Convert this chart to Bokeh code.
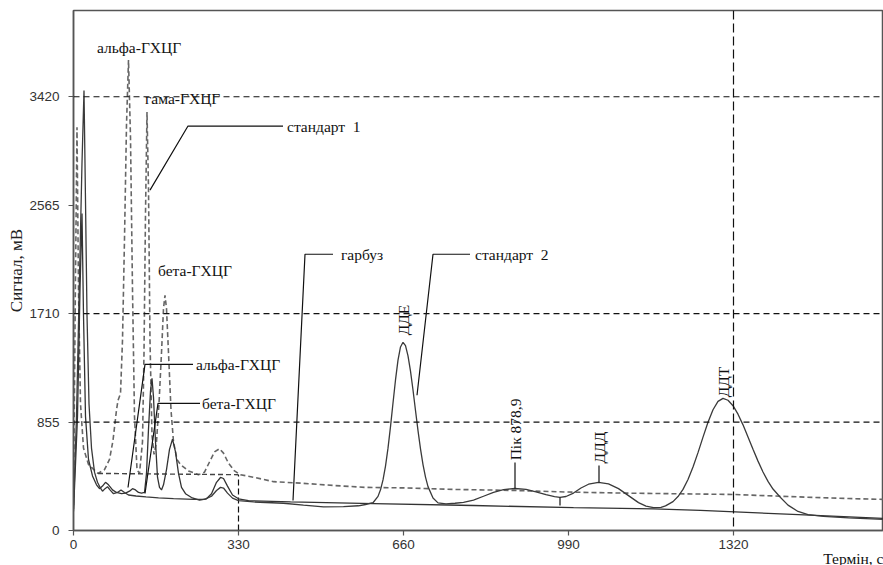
from math import pi
from bokeh.plotting import figure
from bokeh.models import Span, Label, FixedTicker, Title
from bokeh.embed import file_html
from bokeh.resources import INLINE

# ---------------- data ----------------
x_ticks = [0, 330, 660, 990, 1320]
y_ticks = [0, 855, 1710, 2565, 3420]
h_grid = [855, 1710, 3420]
v_grid = 1320

# стандарт 1 (dashed)
std1_t = [0, 3, 7, 10, 14, 20, 30, 49, 62, 72, 79, 86, 89, 94, 98, 102, 106, 110, 114, 118, 122, 127, 132,
          138, 141, 144, 147, 150, 153, 157, 161, 166, 171, 176, 180, 183, 186, 190, 195, 200, 207, 214, 230,
          250, 262, 272, 282, 292, 300, 310, 322, 334, 360, 400, 460, 520, 583, 660, 760, 880, 990, 1100,
          1200, 1320, 1450, 1550, 1620]
std1_v = [200, 1600, 3180, 1900, 1000, 650, 520, 450, 480, 560, 710, 950, 1026, 1080, 1500, 2300, 3200, 3710,
          3100, 1900, 900, 480, 450, 700, 1400, 2500, 3300, 2700, 1500, 750, 600, 700, 1000, 1400, 1750, 1855,
          1750, 1400, 950, 700, 560, 520, 470, 440, 460, 540, 620, 645, 610, 530, 470, 440, 420, 385, 372, 355,
          340, 336, 324, 316, 303, 295, 290, 284, 265, 252, 245]
std1_base_t = [49, 330]
std1_base_v = [450, 440]

# гарбуз (solid)
garbuz_t = [0, 8, 13, 17, 20, 24, 30, 38, 46, 52, 58, 64, 70, 78, 86, 96, 104, 112, 118, 124, 130, 136, 142,
            146, 150, 154, 157, 160, 164, 168, 172, 176, 180, 186, 192, 198, 204, 210, 216, 224, 236, 252, 266,
            276, 286, 294, 300, 308, 318, 330, 350, 434, 600, 800, 1000, 1160, 1254, 1450, 1620]
garbuz_v = [150, 900, 1900, 2500, 1700, 900, 560, 430, 360, 330, 350, 380, 360, 320, 300, 290, 295, 310, 330,
            320, 300, 295, 300, 450, 800, 1100, 1200, 1050, 700, 420, 340, 320, 360, 480, 640, 720, 620, 450,
            340, 290, 260, 240, 250, 290, 380, 418, 410, 350, 280, 250, 235, 225, 212, 197, 180, 170, 158, 125, 95]

# стандарт 2 (solid)
std2_t = [0, 6, 12, 17, 21, 24, 27, 31, 36, 42, 48, 53, 58, 63, 68, 73, 80, 88, 95, 102, 110, 125, 145, 170,
          200, 240, 262, 276, 286, 294, 300, 308, 318, 330, 360, 420, 460, 500, 540, 570, 584, 599, 609, 614,
          619, 624, 629, 634, 639, 644, 649, 654, 659, 664, 669, 674, 679, 684, 689, 694, 699, 704, 709, 719,
          729, 745, 763, 780, 800, 820, 840, 860, 883, 905, 925, 945, 962, 973, 985, 1000, 1015, 1030, 1050,
          1070, 1090, 1110, 1130, 1145, 1160, 1175, 1184, 1199, 1209, 1219, 1229, 1239, 1249, 1259, 1269,
          1279, 1289, 1299, 1309, 1319, 1329, 1339, 1349, 1359, 1369, 1379, 1389, 1399, 1414, 1429, 1449,
          1469, 1500, 1550, 1620]
std2_v = [170, 900, 2000, 2900, 3470, 2600, 1700, 1000, 650, 460, 380, 340, 310, 330, 345, 320, 290, 300, 320,
          300, 280, 272, 265, 258, 252, 245, 245, 270, 315, 340, 335, 295, 255, 235, 225, 215, 200, 186, 188,
          195, 205, 219, 269, 321, 399, 508, 649, 819, 1005, 1187, 1343, 1447, 1484, 1457, 1377, 1257, 1108,
          946, 788, 643, 520, 421, 346, 256, 218, 210, 215, 222, 240, 270, 300, 322, 331, 325, 305, 282, 267,
          262, 268, 295, 335, 365, 380, 368, 330, 275, 220, 192, 180, 182, 194, 228, 268, 324, 402, 500, 614,
          736, 854, 952, 1018, 1042, 1027, 984, 917, 833, 738, 640, 547, 461, 387, 327, 260, 200, 150, 125,
          112, 100, 88]

# ---------------- figure ----------------
SERIF = "Liberation Serif"
SANS = "Liberation Sans"

p = figure(width=883, height=565, x_range=(0, 1620), y_range=(0, 4100),
           output_backend="svg", toolbar_location=None,
           min_border_left=73, min_border_right=0, min_border_top=10, min_border_bottom=35)
p.background_fill_color = "white"
p.border_fill_color = "white"
p.outline_line_color = "#555555"
p.outline_line_width = 1.5
p.grid.visible = False

for ax in (p.xaxis[0], p.yaxis[0]):
    ax.axis_line_color = "#555555"
    ax.axis_line_width = 1.5
    ax.major_tick_line_color = "#555555"
    ax.major_tick_line_width = 1.2
    ax.major_tick_out = 5
    ax.major_tick_in = 0
    ax.minor_tick_out = 0
    ax.minor_tick_in = 0
    ax.major_label_text_font = SANS
    ax.major_label_text_font_size = "13.5px"
    ax.major_label_text_color = "#333333"

p.xaxis[0].ticker = FixedTicker(ticks=x_ticks)
p.yaxis[0].ticker = FixedTicker(ticks=y_ticks)
p.xaxis[0].major_label_standoff = 4
p.yaxis[0].major_label_standoff = 9

# y axis title
p.yaxis[0].axis_label = "Сигнал, мВ"
p.yaxis[0].axis_label_text_font = SERIF
p.yaxis[0].axis_label_text_font_style = "normal"
p.yaxis[0].axis_label_text_font_size = "17px"
p.yaxis[0].axis_label_text_color = "#222222"
p.yaxis[0].axis_label_standoff = 0

# x axis title, bottom right
p.add_layout(Title(text="Термін, с", align="right", vertical_align="bottom",
                   text_font=SERIF, text_font_style="normal", text_font_size="15.5px",
                   text_color="#111111", standoff=-8, offset=0), "below")

# grid lines
for g in h_grid:
    p.add_layout(Span(location=g, dimension="width", line_color="#111111",
                      line_width=1.2, line_dash="6 4"))
p.add_layout(Span(location=v_grid, dimension="height", line_color="#111111",
                  line_width=1.2, line_dash="9 4"))
p.segment(x0=[x_ticks[1]], y0=[0], x1=[x_ticks[1]], y1=[std1_base_v[1]],
          line_color="#111111", line_width=1.2, line_dash="6 3")

# curves
p.line(std1_t, std1_v, line_color="#666666", line_width=1.6, line_dash="5 3")
p.line(std1_base_t, std1_base_v, line_color="#444444", line_width=1.4, line_dash="5 3")
p.line(garbuz_t, garbuz_v, line_color="#333333", line_width=1.3)
p.line(std2_t, std2_v, line_color="#3a3a3a", line_width=1.3)

# leader lines
leaders_x = [[419, 229, 153], [519, 463, 439], [793, 719, 687], [239, 143, 109], [253, 169, 143],
             [883, 883], [1051, 1051], [973, 973]]
leaders_y = [[3189, 3189, 2684], [2178, 2178, 237], [2178, 2178, 1066], [1310, 1310, 339],
             [1002, 1002, 292], [537, 331], [513, 379], [261, 197]]
p.multi_line(leaders_x, leaders_y, line_color="#111111", line_width=1.2)

# labels
labels = [("альфа-ГХЦГ", 47, 3812), ("гама-ГХЦГ", 143, 3410), ("стандарт\u00a0 1", 427, 3189),
          ("бета-ГХЦГ", 169, 2052), ("гарбуз", 535, 2178), ("стандарт\u00a0 2", 803, 2178),
          ("альфа-ГХЦГ", 245, 1310), ("бета-ГХЦГ", 257, 1002)]
for txt, x, y in labels:
    p.add_layout(Label(x=x, y=y, text=txt, text_align="left", text_baseline="middle",
                       text_font=SERIF, text_font_size="15.5px", text_color="#111111"))

rot_labels = [("ДДЕ", 659, 1539), ("Пік 878,9", 883, 553), ("ДДД", 1051, 529), ("ДДТ", 1299, 1050)]
for txt, x, y in rot_labels:
    p.add_layout(Label(x=x, y=y, text=txt, angle=pi / 2, text_align="left", text_baseline="middle",
                       text_font=SERIF, text_font_size="15.5px", text_color="#111111"))

open("out.html", "w").write(file_html(p, INLINE))
